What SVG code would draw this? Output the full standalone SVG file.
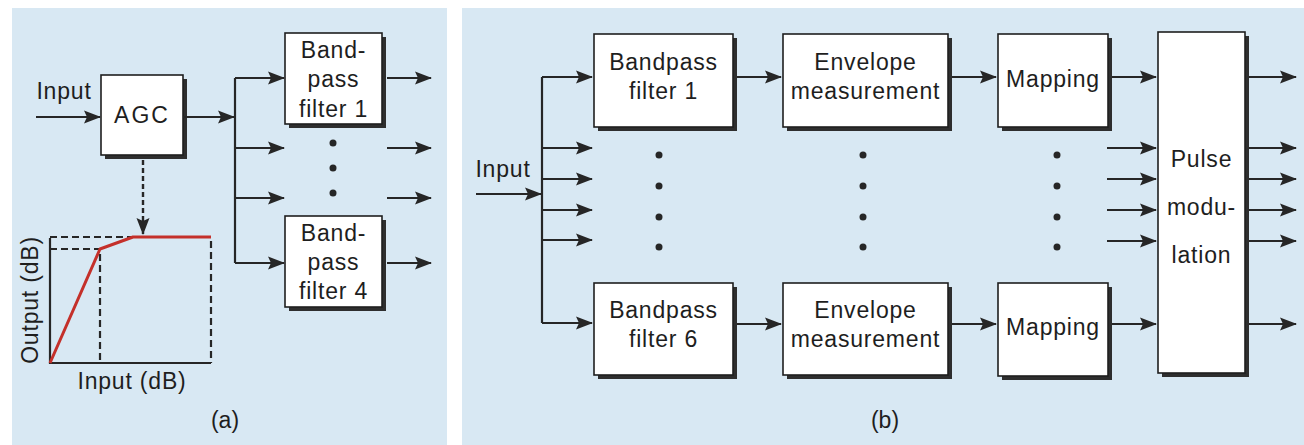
<svg xmlns="http://www.w3.org/2000/svg" width="1304" height="445" viewBox="0 0 1304 445">
  <defs>
    <marker id="ah" markerWidth="19" markerHeight="16" refX="16" refY="7.5" orient="auto" markerUnits="userSpaceOnUse">
      <path d="M0,1 L17,7.5 L0,14 L3,7.5 z" fill="#262626"/>
    </marker>
    <style>
      .panel { fill: #d8e8f3; }
      .shadow { fill: #2e2e2e; }
      .box { fill: #ffffff; stroke: #1e1e1e; stroke-width: 1.6; }
      .lbl { font-family: "Liberation Sans", Arial, sans-serif; font-size: 23px; fill: #1e1e1e; letter-spacing: 0.8px; text-anchor: middle; }
      .wire { fill: none; stroke: #262626; stroke-width: 2.2; }
      .arr { fill: none; stroke: #262626; stroke-width: 2.2; marker-end: url(#ah); }
      .dash { fill: none; stroke: #262626; stroke-width: 2.2; stroke-dasharray: 7 4; }
      .dot { fill: #262626; }
    </style>
  </defs>

  <!-- panel backgrounds -->
  <rect class="panel" x="12" y="8" width="435" height="437"/>
  <rect class="panel" x="462" y="8" width="842" height="437"/>

  <!-- ===== (a) AGC front end ===== -->
  <g id="a-input">
    <text class="lbl" x="64" y="99">Input</text>
  </g>
  <g id="agc">
    <rect class="shadow" x="105" y="79" width="82" height="80"/>
    <rect class="box" x="101" y="75" width="82" height="80"/>
    <text class="lbl" x="142" y="123" style="letter-spacing:2px">AGC</text>
  </g>
  <g id="a-bpf1">
    <rect class="shadow" x="289" y="37" width="97" height="91"/>
    <rect class="box" x="285" y="33" width="97" height="91"/>
    <text class="lbl" x="333.5" y="58">Band-</text>
    <text class="lbl" x="333.5" y="87">pass</text>
    <text class="lbl" x="333.5" y="117">filter 1</text>
  </g>
  <g id="a-bpf4">
    <rect class="shadow" x="289" y="220" width="97" height="91"/>
    <rect class="box" x="285" y="216" width="97" height="91"/>
    <text class="lbl" x="333.5" y="241">Band-</text>
    <text class="lbl" x="333.5" y="270">pass</text>
    <text class="lbl" x="333.5" y="299">filter 4</text>
  </g>
  <g id="a-dots">
    <circle class="dot" cx="333" cy="143" r="3.5"/>
    <circle class="dot" cx="333" cy="168" r="3.5"/>
    <circle class="dot" cx="333" cy="193" r="3.5"/>
  </g>

  <!-- AGC input/output characteristic -->
  <g id="agc-curve">
    <path class="dash" d="M50,237 H211 V363 M50,249 H100 V363"/>
    <path class="wire" d="M50,238 V363 H211"/>
    <path d="M50,363 L100,249 L133,237 L211,237" fill="none" stroke="#c4302a" stroke-width="3" stroke-linejoin="round"/>
    <text class="lbl" x="132" y="389">Input (dB)</text>
    <text class="lbl" transform="translate(38,300) rotate(-90)" x="0" y="0">Output (dB)</text>
  </g>

  <g id="a-connectors">
    <path class="arr" d="M36,117 H100"/>
    <path class="arr" d="M183,117 H234"/>
    <path class="wire" d="M235,78 V263"/>
    <path class="arr" d="M235,78 H284"/>
    <path class="arr" d="M235,148 H284"/>
    <path class="arr" d="M235,198 H284"/>
    <path class="arr" d="M235,263 H284"/>
    <path class="arr" d="M387,78 H431"/>
    <path class="arr" d="M387,148 H431"/>
    <path class="arr" d="M387,198 H431"/>
    <path class="arr" d="M387,263 H431"/>
    <path class="arr" d="M143,160 V234" style="stroke-width:2.4;stroke-dasharray:5 3"/>
  </g>

  <text class="lbl" x="225" y="428" style="letter-spacing:0">(a)</text>

  <!-- ===== (b) channel processing ===== -->
  <g id="b-input">
    <text class="lbl" x="503" y="177">Input</text>
  </g>
  <g id="b-bpf1">
    <rect class="shadow" x="598" y="38" width="139" height="93"/>
    <rect class="box" x="594" y="34" width="139" height="93"/>
    <text class="lbl" x="663.5" y="70">Bandpass</text>
    <text class="lbl" x="663.5" y="99">filter 1</text>
  </g>
  <g id="b-bpf6">
    <rect class="shadow" x="598" y="287" width="139" height="92"/>
    <rect class="box" x="594" y="283" width="139" height="92"/>
    <text class="lbl" x="663.5" y="318">Bandpass</text>
    <text class="lbl" x="663.5" y="347">filter 6</text>
  </g>
  <g id="b-env1">
    <rect class="shadow" x="787" y="38" width="165" height="93"/>
    <rect class="box" x="783" y="34" width="165" height="93"/>
    <text class="lbl" x="865.5" y="70">Envelope</text>
    <text class="lbl" x="865.5" y="99">measurement</text>
  </g>
  <g id="b-env6">
    <rect class="shadow" x="787" y="287" width="165" height="92"/>
    <rect class="box" x="783" y="283" width="165" height="92"/>
    <text class="lbl" x="865.5" y="318">Envelope</text>
    <text class="lbl" x="865.5" y="347">measurement</text>
  </g>
  <g id="b-map1">
    <rect class="shadow" x="1002" y="38" width="110" height="93"/>
    <rect class="box" x="998" y="34" width="110" height="93"/>
    <text class="lbl" x="1053" y="87">Mapping</text>
  </g>
  <g id="b-map6">
    <rect class="shadow" x="1002" y="287" width="110" height="93"/>
    <rect class="box" x="998" y="283" width="110" height="93"/>
    <text class="lbl" x="1053" y="335">Mapping</text>
  </g>
  <g id="b-pulse">
    <rect class="shadow" x="1162" y="36" width="87" height="341"/>
    <rect class="box" x="1158" y="32" width="87" height="341"/>
    <text class="lbl" x="1201.5" y="167">Pulse</text>
    <text class="lbl" x="1201.5" y="215">modu-</text>
    <text class="lbl" x="1201.5" y="263">lation</text>
  </g>
  <g id="b-dots">
    <circle class="dot" cx="659" cy="155" r="3.5"/>
    <circle class="dot" cx="659" cy="186" r="3.5"/>
    <circle class="dot" cx="659" cy="217" r="3.5"/>
    <circle class="dot" cx="659" cy="247" r="3.5"/>
    <circle class="dot" cx="863" cy="155" r="3.5"/>
    <circle class="dot" cx="863" cy="186" r="3.5"/>
    <circle class="dot" cx="863" cy="217" r="3.5"/>
    <circle class="dot" cx="863" cy="247" r="3.5"/>
    <circle class="dot" cx="1057" cy="155" r="3.5"/>
    <circle class="dot" cx="1057" cy="186" r="3.5"/>
    <circle class="dot" cx="1057" cy="217" r="3.5"/>
    <circle class="dot" cx="1057" cy="247" r="3.5"/>
  </g>

  <g id="b-connectors">
    <path class="arr" d="M476,194 H541"/>
    <path class="wire" d="M542,77 V323"/>
    <path class="arr" d="M542,77 H592"/>
    <path class="arr" d="M542,148 H592"/>
    <path class="arr" d="M542,179 H592"/>
    <path class="arr" d="M542,210 H592"/>
    <path class="arr" d="M542,240 H592"/>
    <path class="arr" d="M542,323 H592"/>
    <path class="arr" d="M737,77 H781"/>
    <path class="arr" d="M737,324 H781"/>
    <path class="arr" d="M952,77 H996"/>
    <path class="arr" d="M952,324 H996"/>
    <path class="arr" d="M1112,77 H1156"/>
    <path class="arr" d="M1112,324 H1156"/>
    <path class="arr" d="M1107,148 H1156"/>
    <path class="arr" d="M1107,179 H1156"/>
    <path class="arr" d="M1107,210 H1156"/>
    <path class="arr" d="M1107,241 H1156"/>
    <path class="arr" d="M1249,77 H1296"/>
    <path class="arr" d="M1249,148 H1296"/>
    <path class="arr" d="M1249,179 H1296"/>
    <path class="arr" d="M1249,210 H1296"/>
    <path class="arr" d="M1249,241 H1296"/>
    <path class="arr" d="M1249,324 H1296"/>
  </g>

  <text class="lbl" x="885" y="428" style="letter-spacing:0">(b)</text>
</svg>
